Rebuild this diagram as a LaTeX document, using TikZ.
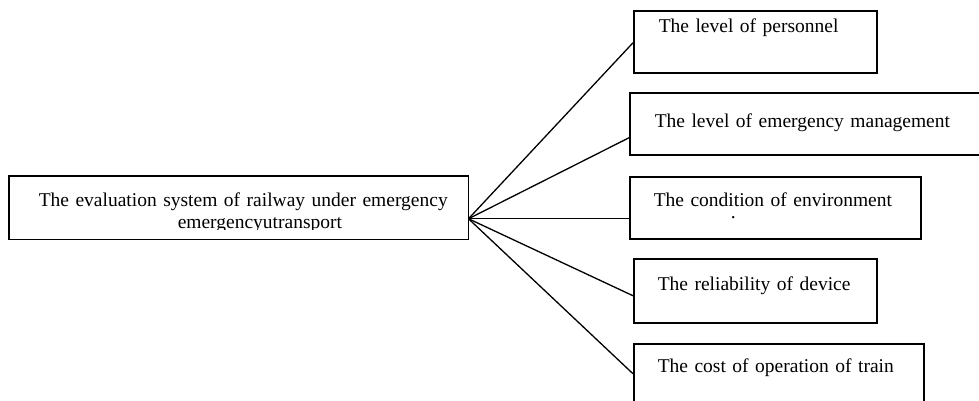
\documentclass[tikz,border=0pt]{standalone}
\usepackage{fontspec}
\setmainfont{Liberation Serif}
\usetikzlibrary{positioning}
\tikzset{
  evbox/.style={draw=black,line width=1.5pt,anchor=north west,inner sep=0pt,
    align=left,font=\fontsize{19.5}{22}\selectfont},
  evedge/.style={black,line width=1.3pt},
}
\begin{document}
\begin{tikzpicture}[x=1pt,y=-1pt]
  \useasboundingbox (0,0) rectangle (979,400);
  \clip (0,0) rectangle (979,400);
  % root box, second line cut by the frame
  \begin{scope}
    \clip (0,0) rectangle (479,229);
    \node[evbox,draw=none,text width=458pt,text height=30pt,text depth=32pt] (main) at (9,176)
      {\hspace*{29pt}The evaluation system of railway under emergency\\\hspace*{168pt}emergencyutransport};
  \end{scope}
  \draw[evedge,line width=1.5pt] (main.north west) rectangle (main.south east);
  \coordinate (hub) at ([yshift=-11pt]main.east);
  % factors
  \node[evbox,text width=243pt,text height=22pt,text depth=40pt] (pers) at (633,10)
    {\hspace*{25pt}The level of personnel};
  \node[evbox,text width=360pt,text height=35pt,text depth=27pt] (mgmt) at (629,92)
    {\hspace*{25pt}The level of emergency management};
  \node[evbox,text width=291pt,text height=30pt,text depth=32pt] (env) at (629,176)
    {\hspace*{24pt}The condition of environment\\[-10pt]\hspace*{101pt}.};
  \node[evbox,text width=243pt,text height=32pt,text depth=32pt] (dev) at (633,258)
    {\hspace*{24pt}The reliability of device};
  \node[evbox,text width=290pt,text height=29pt,text depth=33pt] (cost) at (633,343)
    {\hspace*{24pt}The cost of operation of train};
  \draw[evedge] (hub) -- ([yshift=-1pt]pers.west);
  \draw[evedge] (hub) -- ([yshift=-14pt]mgmt.west);
  \draw[evedge] (hub) -- ([yshift=-11pt]env.west);
  \draw[evedge] (hub) -- ([yshift=-5pt]dev.west);
  \draw[evedge] (hub) -- ([yshift=1pt]cost.west);
\end{tikzpicture}
\end{document}
